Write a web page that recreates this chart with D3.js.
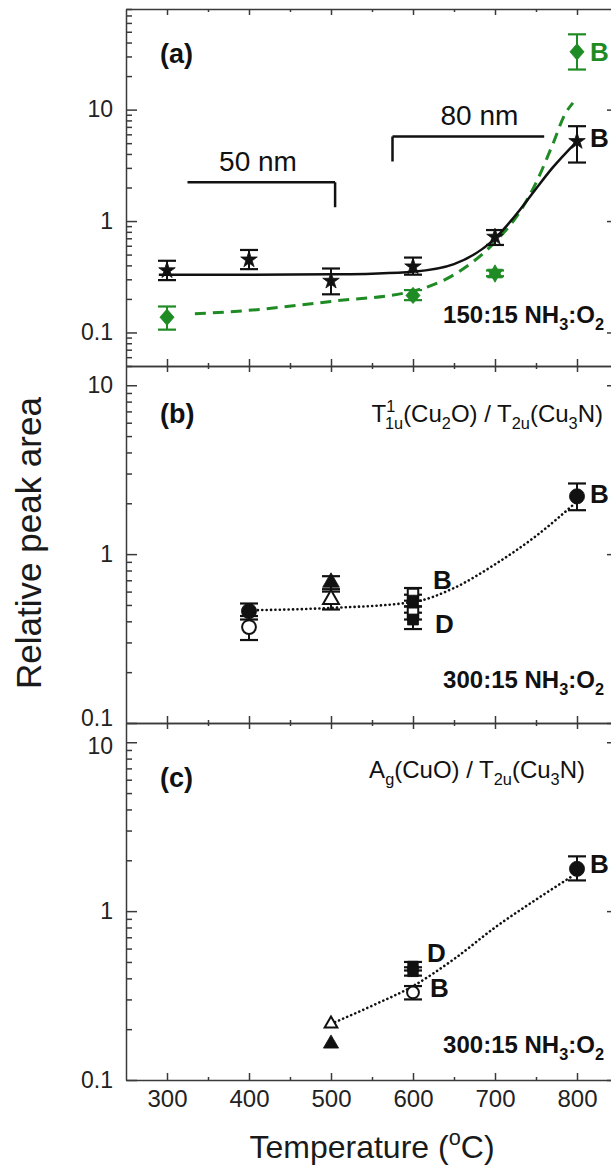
<!DOCTYPE html>
<html><head><meta charset="utf-8">
<script src="https://cdn.jsdelivr.net/npm/d3@7"></script>
<style>
html,body{margin:0;padding:0;background:#fff;}
svg{display:block;}
text{font-family:"Liberation Sans",Arial,Helvetica,sans-serif;}
</style>
</head><body>
<svg id="chart" width="611" height="1169"></svg>
<script>
// ---------------- DATA ----------------
const xDomain = [250, 850];
const xMajorTicks = [300, 400, 500, 600, 700, 800];
const xMinorTicks = [350, 450, 550, 650, 750];
const yDomainA = [0.05, 80];
const yDomainB = [0.1, 13];
const yDomainC = [0.1, 13];
const yMajorTicks = [0.1, 1, 10];
const yMinorTicks = [0.05,0.06,0.07,0.08,0.09,0.2,0.3,0.4,0.5,0.6,0.7,0.8,0.9,2,3,4,5,6,7,8,9,20,30,40,50,60,70,80];

// panel (a) black stars
const aStarT  = [300, 400, 500, 600, 700, 800];
const aStarV  = [0.36, 0.45, 0.29, 0.39, 0.72, 5.2];
const aStarLo = [0.295, 0.37, 0.22, 0.33, 0.61, 3.35];
const aStarHi = [0.44, 0.55, 0.375, 0.47, 0.83, 7.1];
// panel (a) black fit (solid)
const aFitT = [290, 300, 400, 500, 550, 600, 650, 700, 715, 730, 750, 770, 800];
const aFitV = [0.33, 0.33, 0.33, 0.333, 0.337, 0.35, 0.41, 0.70, 0.92, 1.25, 1.95, 3.0, 5.2];
// panel (a) green points
const aGreenDiamT  = [300, 600, 800];
const aGreenDiamV  = [0.137, 0.215, 33];
const aGreenDiamLo = [0.106, 0.195, 22.9];
const aGreenDiamHi = [0.171, 0.24, 47.4];
const aGreenHexT  = [700];
const aGreenHexV  = [0.338];
const aGreenHexLo = [0.32];
const aGreenHexHi = [0.36];
// panel (a) green fit (dashed)
const aDashT = [334, 400, 500, 600, 650, 700, 730, 750, 770, 785, 795];
const aDashV = [0.147, 0.158, 0.19, 0.235, 0.33, 0.65, 1.2, 2.2, 4.8, 9.0, 11.5];
// panel (a) size brackets
const bracketLabels = ["50 nm", "80 nm"];
const bracketT0 = [325, 575];
const bracketT1 = [505, 760];
const bracketV  = [2.23, 5.75];
const bracketTickV = [1.33, 3.42];
const bracketTickAtEnd = [true, false];
const bracketTextT = [411, 681];

// panel (b)
const bFilledCircT = [400, 800], bFilledCircV = [0.46, 2.2], bFilledCircLo = [0.41, 1.82], bFilledCircHi = [0.51, 2.62];
const bOpenCircT = [400], bOpenCircV = [0.37], bOpenCircLo = [0.31], bOpenCircHi = [0.43];
const bFilledTriT = [500], bFilledTriV = [0.68], bFilledTriLo = [0.62], bFilledTriHi = [0.74];
const bOpenTriT = [500], bOpenTriV = [0.54], bOpenTriLo = [0.47], bOpenTriHi = [0.60];
const bOpenSqT = [600, 600], bOpenSqV = [0.58, 0.45], bOpenSqLo = [0.53, 0.41], bOpenSqHi = [0.63, 0.49];
const bFilledSqT = [600, 600], bFilledSqV = [0.53, 0.41], bFilledSqLo = [0.49, 0.36], bFilledSqHi = [0.575, 0.45];
const bDotT = [400, 500, 600, 650, 700, 750, 800];
const bDotV = [0.465, 0.48, 0.52, 0.63, 0.87, 1.28, 2.05];

// panel (c)
const cFilledCircT = [800], cFilledCircV = [1.78], cFilledCircLo = [1.52], cFilledCircHi = [2.11];
const cFilledSqT = [600, 600], cFilledSqV = [0.47, 0.44], cFilledSqLo = [0.445, 0.415], cFilledSqHi = [0.50, 0.465];
const cOpenCircT = [600], cOpenCircV = [0.33], cOpenCircLo = [0.30], cOpenCircHi = [0.36];
const cOpenTriT = [500], cOpenTriV = [0.215];
const cFilledTriT = [500], cFilledTriV = [0.164];
const cDotT = [500, 550, 600, 650, 700, 750, 795];
const cDotV = [0.215, 0.275, 0.36, 0.52, 0.80, 1.17, 1.62];

// ---------------- DRAW ----------------
const GREEN = "#1f8b24", INK = "#111", AXIS = "#3a3a3a";
const svg = d3.select("#chart");
const x = d3.scaleLinear().domain(xDomain).range([126, 618]);
const yA = d3.scaleLog().domain(yDomainA).range([366, 9]);
const yB = d3.scaleLog().domain(yDomainB).range([723, 366]);
const yC = d3.scaleLog().domain(yDomainC).range([1080, 723]);

const diamond = {draw(ctx, size){ const hw = Math.sqrt(size)/2, hh = hw*1.15;
  ctx.moveTo(0,-hh); ctx.lineTo(hw,0); ctx.lineTo(0,hh); ctx.lineTo(-hw,0); ctx.closePath(); }};
const hexagram = {draw(ctx, size){ const r = Math.sqrt(size)/1.7;
  for (let k=0;k<2;k++){ for(let i=0;i<3;i++){ const a = k*Math.PI/3 - Math.PI/2 + i*2*Math.PI/3;
    const px = r*Math.cos(a), py = r*Math.sin(a); if(i) ctx.lineTo(px,py); else ctx.moveTo(px,py);} ctx.closePath(); } }};

function styleAxis(g, fs){
  g.selectAll("path,line").attr("stroke", AXIS).attr("stroke-width", 1.5);
  g.attr("font-family", '"Liberation Sans",Arial,sans-serif').attr("font-size", fs);
  g.selectAll("text").attr("fill", "#222");
}
const fmt = d3.format("~g");

function yAxes(y){
  const minor = yMinorTicks.filter(v => v >= y.domain()[0]*0.999 && v <= y.domain()[1]*1.001);
  const major = yMajorTicks.filter(v => v >= y.domain()[0]*0.999 && v <= y.domain()[1]*1.001);
  const gL = svg.append("g").attr("transform","translate(126,0)")
    .call(d3.axisLeft(y).tickValues(major).tickFormat(fmt).tickSizeInner(-11).tickSizeOuter(0).tickPadding(13));
  styleAxis(gL, 23);
  const gLm = svg.append("g").attr("transform","translate(126,0)")
    .call(d3.axisLeft(y).tickValues(minor).tickFormat("").tickSizeInner(-6).tickSizeOuter(0));
  styleAxis(gLm, 23); gLm.select(".domain").remove();
  const gR = svg.append("g").attr("transform","translate(618,0)")
    .call(d3.axisRight(y).tickValues(major).tickFormat("").tickSizeInner(-11).tickSizeOuter(0));
  styleAxis(gR, 23);
  const gRm = svg.append("g").attr("transform","translate(618,0)")
    .call(d3.axisRight(y).tickValues(minor).tickFormat("").tickSizeInner(-6).tickSizeOuter(0));
  styleAxis(gRm, 23); gRm.select(".domain").remove();
  return gL;
}
function xEdge(yPos, dir, labels){
  const mk = dir === "down" ? d3.axisTop(x) : d3.axisBottom(x);
  const g1 = svg.append("g").attr("transform",`translate(0,${yPos})`)
    .call(mk.tickValues(xMajorTicks).tickFormat(labels ? d3.format("d") : "").tickSizeInner(dir==="up" ? -7 : -6).tickSizeOuter(0).tickPadding(10));
  styleAxis(g1, 24);
  const mk2 = dir === "down" ? d3.axisTop(x) : d3.axisBottom(x);
  const g2 = svg.append("g").attr("transform",`translate(0,${yPos})`)
    .call(mk2.tickValues(xMinorTicks).tickFormat("").tickSizeInner(-3).tickSizeOuter(0));
  styleAxis(g2, 24); g2.select(".domain").remove();
}
yAxes(yA);
const gB = yAxes(yB);
const gC = yAxes(yC);
// keep the stacked "0.1" / "10" labels at the panel joint from colliding
gB.selectAll(".tick text").filter(d => d === 0.1).attr("dy", "0.12em");
gC.selectAll(".tick text").filter(d => d === 10).attr("dy", "0.5em");
xEdge(9, "down", false);
xEdge(366, "up", false); xEdge(366, "down", false);
xEdge(723, "up", false); xEdge(723, "down", false);
xEdge(1080, "up", true);

// rich text helper
function rich(x0, y0, parts, o){
  const t = svg.append("text").attr("x", x0).attr("y", y0).attr("font-size", o.size)
    .attr("font-weight", o.weight || "normal").attr("fill", o.fill || INK).attr("text-anchor", o.anchor || "start");
  if (o.rotate) t.attr("transform", `rotate(${o.rotate},${x0},${y0})`);
  let shift = 0;
  parts.forEach(p => {
    const s = typeof p === "string" ? {t:p} : p;
    let target = 0, fs = o.size;
    if (s.sub){ target = o.size*0.28; fs = o.size*0.68; }
    if (s.sup){ target = -o.size*0.4; fs = o.size*0.68; }
    const ts = t.append("tspan").text(s.t).attr("font-size", fs).attr("dy", target - shift);
    if (s.dx) ts.attr("dx", s.dx*fs);
    shift = target;
  });
  return t;
}

function errbars(y, T, V, LO, HI, color){
  T.forEach((t,i) => {
    const cx = x(t), y1 = y(LO[i]), y2 = y(HI[i]);
    svg.append("line").attr("x1",cx).attr("x2",cx).attr("y1",y1).attr("y2",y2).attr("stroke",color).attr("stroke-width",2);
    [y1,y2].forEach(yy => svg.append("line").attr("x1",cx-9).attr("x2",cx+9).attr("y1",yy).attr("y2",yy).attr("stroke",color).attr("stroke-width",2.2));
  });
}
function markers(y, T, V, type, size, filled, color){
  T.forEach((t,i) => {
    svg.append("path").attr("transform",`translate(${x(t)},${y(V[i])})`)
      .attr("d", d3.symbol().type(type).size(size)())
      .attr("fill", filled ? color : "#fff").attr("stroke", color).attr("stroke-width", filled ? 0.8 : 2);
  });
}
function curve(y, T, V, color, width, dash, cap){
  const line = d3.line().x(d => x(d[0])).y(d => y(d[1])).curve(d3.curveMonotoneX);
  svg.append("path").attr("d", line(T.map((t,i)=>[t,V[i]]))).attr("fill","none")
    .attr("stroke", color).attr("stroke-width", width).attr("stroke-dasharray", dash || null)
    .attr("stroke-linecap", cap || "butt");
}

// ---- panel (a)
curve(yA, aDashT, aDashV, GREEN, 3, "11,7");
curve(yA, aFitT, aFitV, INK, 2.5);
errbars(yA, aStarT, aStarV, aStarLo, aStarHi, INK);
markers(yA, aStarT, aStarV, d3.symbolStar, 85, true, INK);
errbars(yA, aGreenDiamT, aGreenDiamV, aGreenDiamLo, aGreenDiamHi, GREEN);
markers(yA, aGreenDiamT, aGreenDiamV, diamond, 200, true, GREEN);
errbars(yA, aGreenHexT, aGreenHexV, aGreenHexLo, aGreenHexHi, GREEN);
markers(yA, aGreenHexT, aGreenHexV, hexagram, 220, true, GREEN);
bracketLabels.forEach((lab, i) => {
  const x0 = x(bracketT0[i]), x1 = x(bracketT1[i]), yy = yA(bracketV[i]), yt = yA(bracketTickV[i]);
  const xt = bracketTickAtEnd[i] ? x1 : x0;
  svg.append("path").attr("d", `M${x0},${yy}H${x1}M${xt},${yy}V${yt}`).attr("fill","none").attr("stroke",INK).attr("stroke-width",2.5);
  rich(x(bracketTextT[i]), yy - 11, [lab], {size: 28, anchor: "middle"});
});
rich(160, 63, ["(a)"], {size: 27, weight: "bold"});
rich(x(800)+13, 147, ["B"], {size: 26, weight: "bold"});
rich(x(800)+13, 61, ["B"], {size: 26, weight: "bold", fill: GREEN});
rich(604, 323, ["150:15 NH", {t:"3",sub:true}, ":O", {t:"2",sub:true}], {size: 24, weight: "bold", anchor: "end"});

// ---- panel (b)
curve(yB, bDotT, bDotV, INK, 2.6, "0.1,4.3", "round");
errbars(yB, bOpenCircT, bOpenCircV, bOpenCircLo, bOpenCircHi, INK);
errbars(yB, bFilledCircT, bFilledCircV, bFilledCircLo, bFilledCircHi, INK);
errbars(yB, bOpenTriT, bOpenTriV, bOpenTriLo, bOpenTriHi, INK);
errbars(yB, bFilledTriT, bFilledTriV, bFilledTriLo, bFilledTriHi, INK);
errbars(yB, bOpenSqT, bOpenSqV, bOpenSqLo, bOpenSqHi, INK);
errbars(yB, bFilledSqT, bFilledSqV, bFilledSqLo, bFilledSqHi, INK);
markers(yB, bOpenCircT, bOpenCircV, d3.symbolCircle, 150, false, INK);
markers(yB, bFilledCircT, bFilledCircV, d3.symbolCircle, 180, true, INK);
markers(yB, bOpenTriT, bOpenTriV, d3.symbolTriangle, 110, false, INK);
markers(yB, bFilledTriT, bFilledTriV, d3.symbolTriangle, 120, true, INK);
markers(yB, bOpenSqT, bOpenSqV, d3.symbolSquare, 110, false, INK);
markers(yB, bFilledSqT, bFilledSqV, d3.symbolSquare, 120, true, INK);
rich(160, 423, ["(b)"], {size: 27, weight: "bold"});
rich(603, 422, ["T", {t:"1",sup:true}, {t:"1u",sub:true,dx:-0.556}, "(Cu", {t:"2",sub:true}, "O) / T", {t:"2u",sub:true}, "(Cu", {t:"3",sub:true}, "N)"], {size: 24, anchor: "end"});
rich(x(800)+13, 503, ["B"], {size: 26, weight: "bold"});
rich(x(600)+20, 589, ["B"], {size: 26, weight: "bold"});
rich(x(600)+22, 633, ["D"], {size: 26, weight: "bold"});
rich(604, 688, ["300:15 NH", {t:"3",sub:true}, ":O", {t:"2",sub:true}], {size: 24, weight: "bold", anchor: "end"});

// ---- panel (c)
curve(yC, cDotT, cDotV, INK, 2.6, "0.1,4.3", "round");
errbars(yC, cFilledCircT, cFilledCircV, cFilledCircLo, cFilledCircHi, INK);
errbars(yC, cFilledSqT, cFilledSqV, cFilledSqLo, cFilledSqHi, INK);
errbars(yC, cOpenCircT, cOpenCircV, cOpenCircLo, cOpenCircHi, INK);
markers(yC, cFilledCircT, cFilledCircV, d3.symbolCircle, 180, true, INK);
markers(yC, cFilledSqT, cFilledSqV, d3.symbolSquare, 110, true, INK);
markers(yC, cOpenCircT, cOpenCircV, d3.symbolCircle, 110, false, INK);
markers(yC, cOpenTriT, cOpenTriV, d3.symbolTriangle, 70, false, INK);
markers(yC, cFilledTriT, cFilledTriV, d3.symbolTriangle, 100, true, INK);
rich(160, 787, ["(c)"], {size: 27, weight: "bold"});
rich(585, 778, ["A", {t:"g",sub:true}, "(CuO) / T", {t:"2u",sub:true}, "(Cu", {t:"3",sub:true}, "N)"], {size: 24, anchor: "end"});
rich(x(800)+13, 873, ["B"], {size: 26, weight: "bold"});
rich(x(600)+14, 962, ["D"], {size: 26, weight: "bold"});
rich(x(600)+17, 997, ["B"], {size: 26, weight: "bold"});
rich(604, 1053, ["300:15 NH", {t:"3",sub:true}, ":O", {t:"2",sub:true}], {size: 24, weight: "bold", anchor: "end"});

// ---- axis titles
rich(41, 543, ["Relative peak area"], {size: 35, anchor: "middle", rotate: -90, fill: "#1a1a1a"});
rich(x(550), 1158, ["Temperature (", {t:"o",sup:true}, "C)"], {size: 32, anchor: "middle", fill: "#1a1a1a"});
</script>
</body></html>
